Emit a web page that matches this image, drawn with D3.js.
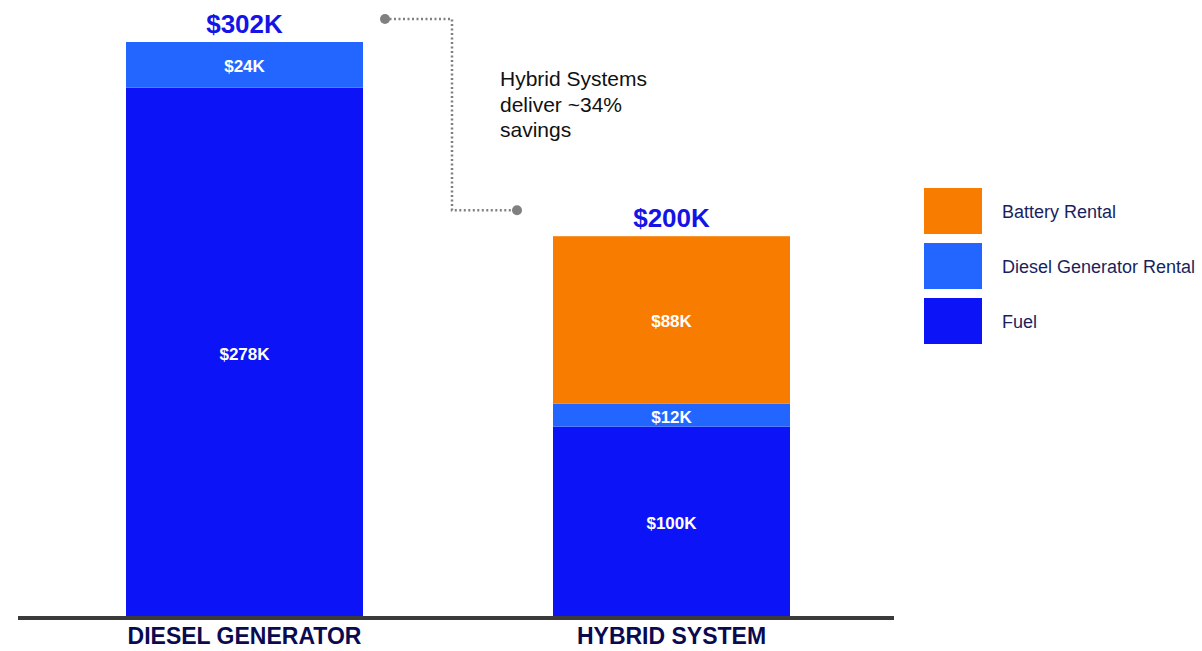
<!DOCTYPE html>
<html>
<head>
<meta charset="utf-8">
<script src="https://cdn.jsdelivr.net/npm/d3@7"></script>
<style>
  body { margin: 0; background: #fff; }
  svg { font-family: "Liberation Sans", Arial, sans-serif; }
</style>
</head>
<body>
<div id="chart"></div>
<script>
// data
const categories = ["DIESEL GENERATOR", "HYBRID SYSTEM"];
const seriesNames = ["Fuel", "Diesel Generator Rental", "Battery Rental"];
const fuel = [278, 100];
const generatorRental = [24, 12];
const batteryRental = [0, 88];
const totals = [302, 200];
const legendOrder = ["Battery Rental", "Diesel Generator Rental", "Fuel"];
const noteLines = ["Hybrid Systems", "deliver ~34%", "savings"];

const width = 1202, height = 651;
const colors = {
    "Fuel": "#0c14f7",
    "Diesel Generator Rental": "#2266ff",
    "Battery Rental": "#f77c00"
};

const svg = d3.select("#chart")
    .append("svg")
    .attr("width", width)
    .attr("height", height);

// build rows for stacking
const rows = categories.map(function(c, i) {
    return {
        category: c,
        "Fuel": fuel[i],
        "Diesel Generator Rental": generatorRental[i],
        "Battery Rental": batteryRental[i]
    };
});
const stacked = d3.stack().keys(seriesNames)(rows);

const xScale = d3.scaleBand()
    .domain(categories)
    .range([31, 885])
    .paddingInner(0.445)
    .paddingOuter(0.2225);

const yScale = d3.scaleLinear()
    .domain([0, 302])
    .range([617, 42]);

// bars
const layers = svg.selectAll("g.layer")
    .data(stacked)
    .enter()
    .append("g")
        .attr("class", "layer")
        .attr("fill", function(d) { return colors[d.key]; });

layers.selectAll("rect")
    .data(function(d) { return d; })
    .enter()
    .append("rect")
        .attr("x", function(d) { return xScale(d.data.category); })
        .attr("y", function(d) { return yScale(d[1]); })
        .attr("width", xScale.bandwidth())
        .attr("height", function(d) { return yScale(d[0]) - yScale(d[1]); });

// segment value labels
layers.selectAll("text")
    .data(function(d) { return d.filter(function(s) { return s[1] - s[0] > 0; }); })
    .enter()
    .append("text")
        .attr("x", function(d) { return xScale(d.data.category) + xScale.bandwidth() / 2; })
        .attr("y", function(d) { return (yScale(d[0]) + yScale(d[1])) / 2 + 1.5; })
        .attr("dy", "0.35em")
        .attr("text-anchor", "middle")
        .attr("fill", "#fff")
        .attr("font-size", 17)
        .attr("font-weight", "bold")
        .text(function(d) { return "$" + (d[1] - d[0]) + "K"; });

// totals on top
svg.selectAll("text.total")
    .data(categories)
    .enter()
    .append("text")
        .attr("class", "total")
        .attr("x", function(d) { return xScale(d) + xScale.bandwidth() / 2; })
        .attr("y", function(d, i) { return yScale(totals[i]) - 9; })
        .attr("text-anchor", "middle")
        .attr("fill", "#1414e6")
        .attr("font-size", 26)
        .attr("font-weight", "bold")
        .text(function(d, i) { return "$" + totals[i] + "K"; });

// baseline + category labels
svg.append("line")
    .attr("x1", 18)
    .attr("x2", 894)
    .attr("y1", 618)
    .attr("y2", 618)
    .attr("stroke", "#3a3a3a")
    .attr("stroke-width", 4);

const xAxis = svg.append("g")
    .attr("transform", "translate(0,618)")
    .call(d3.axisBottom(xScale).tickSize(0).tickPadding(10));
xAxis.select(".domain").remove();
xAxis.selectAll("text")
    .attr("font-family", "'Liberation Sans', Arial, sans-serif")
    .attr("font-size", 23)
    .attr("font-weight", "bold")
    .attr("fill", "#0a0a50");

// dotted connector between totals
const cx1 = xScale(categories[0]) + xScale.bandwidth() + 22;
const cxMid = 452;
const cx2 = xScale(categories[1]) - 36;
const cy1 = yScale(totals[0]) - 23;
const cy2 = yScale(totals[1]) - 26;
svg.append("path")
    .attr("d", `M${cx1},${cy1}H${cxMid}V${cy2}H${cx2}`)
    .attr("fill", "none")
    .attr("stroke", "#808080")
    .attr("stroke-width", 2.5)
    .attr("stroke-dasharray", "2,2.5");
svg.selectAll("circle.end")
    .data([[cx1, cy1], [cx2, cy2]])
    .enter()
    .append("circle")
        .attr("class", "end")
        .attr("cx", function(d) { return d[0]; })
        .attr("cy", function(d) { return d[1]; })
        .attr("r", 5)
        .attr("fill", "#808080");

svg.append("text")
    .attr("x", 500)
    .attr("y", 86)
    .attr("font-size", 21)
    .attr("fill", "#111")
    .selectAll("tspan")
    .data(noteLines)
    .enter()
    .append("tspan")
        .attr("x", 500)
        .attr("dy", function(d, i) { return i === 0 ? 0 : 25.5; })
        .text(function(d) { return d; });

// legend
const legend = svg.selectAll("g.legend")
    .data(legendOrder)
    .enter()
    .append("g")
        .attr("class", "legend")
        .attr("transform", function(d, i) { return `translate(924,${188 + i * 55})`; });

legend.append("rect")
    .attr("width", 58)
    .attr("height", 46)
    .attr("fill", function(d) { return colors[d]; });

legend.append("text")
    .attr("x", 78)
    .attr("y", 24)
    .attr("dy", "0.35em")
    .attr("font-size", 18)
    .attr("fill", "#1a1f5e")
    .text(function(d) { return d; });
</script>
</body>
</html>
